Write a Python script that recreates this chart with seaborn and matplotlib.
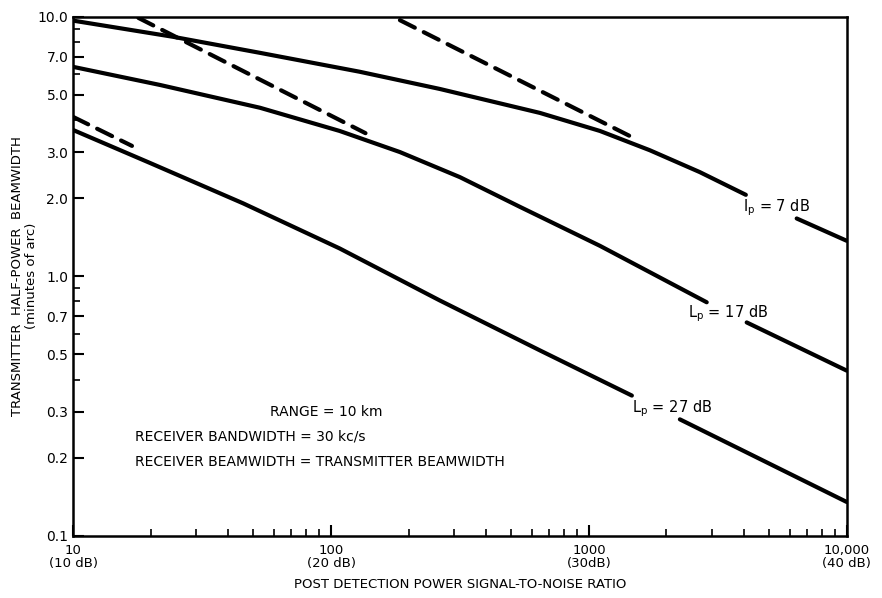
import numpy as np
import pandas as pd
import matplotlib
matplotlib.use("Agg")
import matplotlib.pyplot as plt
import seaborn as sns
from matplotlib.ticker import FixedLocator, FixedFormatter, NullFormatter

# ---- data ----
ip7_x = [10, 24.4, 53, 129, 264, 646, 1104, 1722, 2692, 4062]
ip7_y = [9.66, 8.37, 7.26, 6.14, 5.27, 4.26, 3.63, 3.06, 2.52, 2.06]
ip7_tail_x = [6397, 10000]
ip7_tail_y = [1.67, 1.37]

lp17_x = [10, 21.7, 53, 108, 185, 316, 541, 1104, 2864]
lp17_y = [6.41, 5.46, 4.46, 3.63, 3.01, 2.41, 1.85, 1.31, 0.794]
lp17_tail_x = [4093, 10000]
lp17_tail_y = [0.664, 0.433]

lp27_x = [10, 19.9, 45.6, 108, 264, 646, 1468]
lp27_y = [3.66, 2.73, 1.91, 1.28, 0.807, 0.518, 0.347]
lp27_tail_x = [2254, 10000]
lp27_tail_y = [0.281, 0.135]

dashA_x = [10, 16.9]
dashA_y = [4.11, 3.18]
dashB_x = [17.9, 136]
dashB_y = [9.9, 3.56]
dashC_x = [185, 1442]
dashC_y = [9.7, 3.47]

y_major = [0.1, 0.2, 0.3, 0.5, 0.7, 1.0, 2.0, 3.0, 5.0, 7.0, 10.0]
y_major_labels = ["0.1", "0.2", "0.3", "0.5", "0.7", "1.0", "2.0", "3.0", "5.0", "7.0", "10.0"]
y_minor = [0.4, 0.6, 0.8, 0.9, 4.0, 6.0, 8.0, 9.0]
x_major = [10, 100, 1000, 10000]
x_major_labels = ["10\n(10 dB)", "100\n(20 dB)", "1000\n(30dB)", "10,000\n(40 dB)"]

curve_labels = ["I$_{\\rm p}$ = 7 dB", "L$_{\\rm p}$ = 17 dB", "L$_{\\rm p}$ = 27 dB"]
notes = ["RANGE = 10 km", "RECEIVER BANDWIDTH = 30 kc/s",
         "RECEIVER BEAMWIDTH = TRANSMITTER BEAMWIDTH"]

# ---- figure ----
sns.set_style("ticks")
plt.rcParams['font.family'] = ['DejaVu Sans']
plt.rcParams['text.color'] = 'black'
plt.rcParams['axes.labelcolor'] = 'black'
plt.rcParams['xtick.color'] = 'black'
plt.rcParams['ytick.color'] = 'black'
fig = plt.figure(figsize=(8.82, 5.98), dpi=100)
ax = fig.add_axes([0.083, 0.104, 0.877, 0.868])

lw = 3.0
solid_kw = dict(color="black", linewidth=lw, solid_capstyle="round",
                solid_joinstyle="round", sort=False, estimator=None, legend=False)
for xs, ys in [(ip7_x, ip7_y), (ip7_tail_x, ip7_tail_y),
               (lp17_x, lp17_y), (lp17_tail_x, lp17_tail_y),
               (lp27_x, lp27_y), (lp27_tail_x, lp27_tail_y)]:
    df = pd.DataFrame({"x": xs, "y": ys})
    sns.lineplot(data=df, x="x", y="y", ax=ax, **solid_kw)

for xs, ys in [(dashA_x, dashA_y), (dashB_x, dashB_y), (dashC_x, dashC_y)]:
    df = pd.DataFrame({"x": xs, "y": ys})
    sns.lineplot(data=df, x="x", y="y", ax=ax, color="black", linewidth=lw,
                 linestyle=(0, (4.0, 2.4)), dash_capstyle="round",
                 sort=False, estimator=None, legend=False)

ax.set_xscale("log")
ax.set_yscale("log")
ax.set_xlim(10, 10000)
ax.set_ylim(0.1, 10)

ax.yaxis.set_major_locator(FixedLocator(y_major))
ax.yaxis.set_major_formatter(FixedFormatter(y_major_labels))
ax.yaxis.set_minor_locator(FixedLocator(y_minor))
ax.yaxis.set_minor_formatter(NullFormatter())
ax.xaxis.set_major_locator(FixedLocator(x_major))
ax.xaxis.set_major_formatter(FixedFormatter(x_major_labels))
xm = [m * d for d in (10, 100, 1000) for m in range(2, 10)]
ax.xaxis.set_minor_locator(FixedLocator(xm))
ax.xaxis.set_minor_formatter(NullFormatter())

ax.tick_params(axis="both", which="major", direction="in", length=8, width=1.5,
               labelsize=10)
ax.tick_params(axis="both", which="minor", direction="in", length=5, width=1.2)
ax.tick_params(axis="x", which="major", pad=6)
for lab in ax.get_xticklabels():
    lab.set_fontsize(9.5)
    lab.set_linespacing(1.0)
for s in ax.spines.values():
    s.set_linewidth(1.8)
    s.set_color("black")
    s.set_visible(True)

ax.set_xlabel("POST DETECTION POWER SIGNAL-TO-NOISE RATIO", fontsize=9.5, labelpad=6)
ax.set_ylabel("TRANSMITTER  HALF-POWER  BEAMWIDTH\n(minutes of arc)", fontsize=9.5,
              linespacing=1.1)
ax.yaxis.set_label_coords(-0.045, 0.5)

# curve labels
ax.text(5360, 1.83, curve_labels[0], fontsize=10.5, ha="center", va="center")
ax.text(3460, 0.72, curve_labels[1], fontsize=10.5, ha="center", va="center")
ax.text(2100, 0.309, curve_labels[2], fontsize=10.5, ha="center", va="center")

# notes
ax.text(58, 0.301, notes[0], fontsize=10, ha="left", va="center")
ax.text(17.4, 0.241, notes[1], fontsize=10, ha="left", va="center")
ax.text(17.4, 0.193, notes[2], fontsize=10, ha="left", va="center")

fig.savefig("out.png", dpi=100, facecolor="white")
